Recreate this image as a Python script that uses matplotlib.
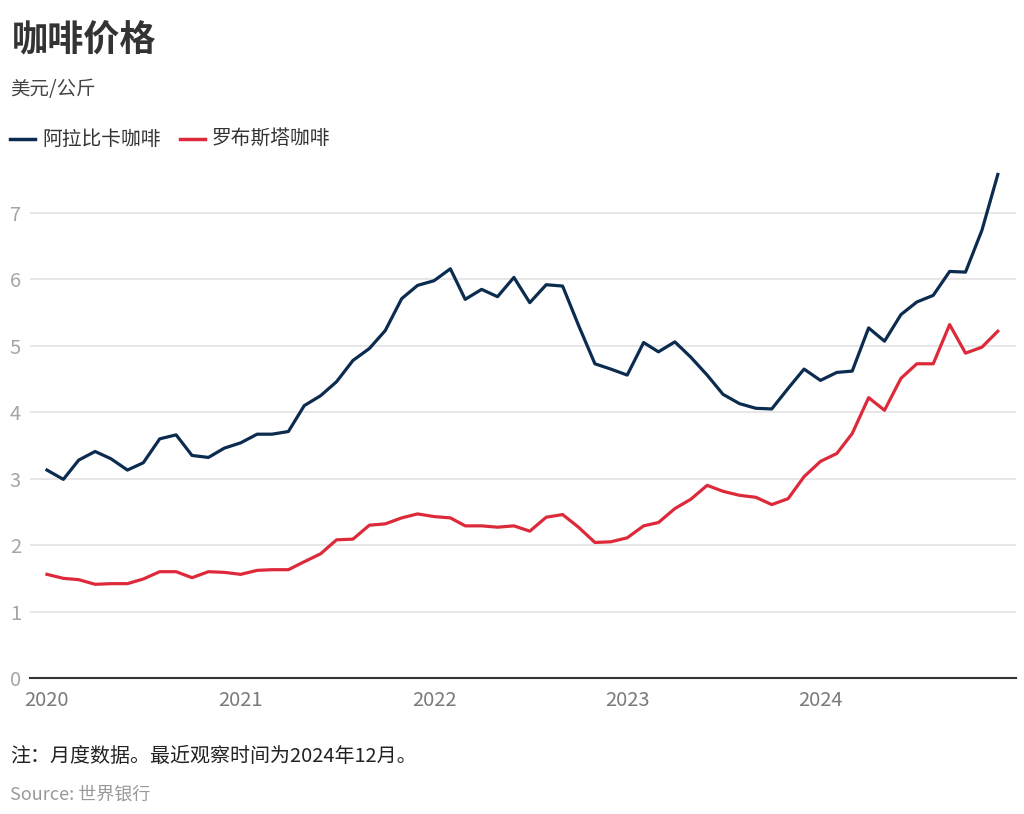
import matplotlib
matplotlib.use("Agg")
import matplotlib.pyplot as plt
import pandas as pd
import numpy as np

plt.rcParams['font.family'] = ['Noto Sans CJK SC', 'DejaVu Sans']

months = pd.date_range("2020-01-01", "2024-12-01", freq="MS")

arabica = [
    3.13, 2.99, 3.28, 3.41, 3.30, 3.13, 3.24, 3.60, 3.66, 3.35, 3.32, 3.46,
    3.54, 3.67, 3.67, 3.71, 4.10, 4.25, 4.46, 4.78, 4.96, 5.23, 5.71, 5.91,
    5.98, 6.16, 5.70, 5.85, 5.74, 6.03, 5.65, 5.92, 5.90, 5.31, 4.73, 4.65,
    4.56, 5.05, 4.91, 5.06, 4.83, 4.56, 4.27, 4.13, 4.06, 4.05, 4.36, 4.65,
    4.48, 4.60, 4.62, 5.27, 5.07, 5.47, 5.66, 5.76, 6.12, 6.11, 6.74, 7.58,
]
robusta = [
    1.56, 1.50, 1.48, 1.41, 1.42, 1.42, 1.49, 1.60, 1.60, 1.51, 1.60, 1.59,
    1.56, 1.62, 1.63, 1.63, 1.75, 1.87, 2.08, 2.09, 2.30, 2.32, 2.41, 2.47,
    2.43, 2.41, 2.29, 2.29, 2.27, 2.29, 2.21, 2.42, 2.46, 2.27, 2.04, 2.05,
    2.11, 2.29, 2.34, 2.55, 2.69, 2.90, 2.81, 2.75, 2.72, 2.61, 2.70, 3.03,
    3.26, 3.38, 3.68, 4.22, 4.03, 4.51, 4.73, 4.73, 5.32, 4.89, 4.98, 5.22,
]

series_names = ["阿拉比卡咖啡", "罗布斯塔咖啡"]
series_colors = ["#0b2b4f", "#dd2a3b"]
yticks = [0, 1, 2, 3, 4, 5, 6, 7]
xtick_years = ["2020", "2021", "2022", "2023", "2024"]

title = "咖啡价格"
subtitle = "美元/公斤"
note = "注：月度数据。最近观察时间为2024年12月。"
source = "Source: 世界银行"

fig = plt.figure(figsize=(10.24, 8.14), dpi=100)
ax = fig.add_axes([0.0293, 0.1671, 0.9627, 0.630])

for vals, name, col in zip([arabica, robusta], series_names, series_colors):
    ax.plot(months, vals, color=col, lw=2.3, solid_joinstyle='round', zorder=3)

ax.set_ylim(0, 7.72)
ax.set_xlim(months[0] - pd.Timedelta(days=32), months[-1] + pd.Timedelta(days=34))
ax.set_yticks(yticks)
ax.set_yticklabels([str(t) for t in yticks])
ax.set_xticks([pd.Timestamp(y + "-01-01") for y in xtick_years])
ax.set_xticklabels(xtick_years)

ax.grid(axis='y', color='#e3e3e3', lw=1.2, zorder=0)
ax.grid(axis='x', visible=False)
for s in ['top', 'right', 'left']:
    ax.spines[s].set_visible(False)
ax.spines['bottom'].set_color('#333333')
ax.spines['bottom'].set_linewidth(1.5)
ax.tick_params(axis='y', length=0, labelsize=14.5, labelcolor='#a5a5a5')
for lab in ax.get_yticklabels():
    lab.set_horizontalalignment('left')
ax.tick_params(axis='y', pad=14.5)
ax.tick_params(axis='x', length=0, labelsize=14.5, labelcolor='#7a7a7a', pad=9)

# Header texts
fig.text(12 / 1024, 1 - 41 / 814, title, fontsize=26, fontweight='bold', color='#333333', va='center', ha='left')
fig.text(10 / 1024, 1 - 90 / 814, subtitle, fontsize=14, color='#444444', va='center', ha='left')

# Legend
leg_y = 1 - 139 / 814
lx = [10, 180]
for i, (name, col) in enumerate(zip(series_names, series_colors)):
    x0 = lx[i] / 1024
    fig.add_artist(plt.Line2D([x0, x0 + 25 / 1024], [leg_y, leg_y], color=col, lw=2.5, transform=fig.transFigure))
    fig.text(x0 + 32 / 1024, leg_y, name, fontsize=14.2, color='#333333', va='center', ha='left')

fig.text(10 / 1024, 1 - 757 / 814, note, fontsize=14.4, color='#222222', va='center', ha='left', style='italic')
fig.text(10 / 1024, 1 - 795 / 814, source, fontsize=13, color='#999999', va='center', ha='left')

fig.savefig("out.png", dpi=100)
